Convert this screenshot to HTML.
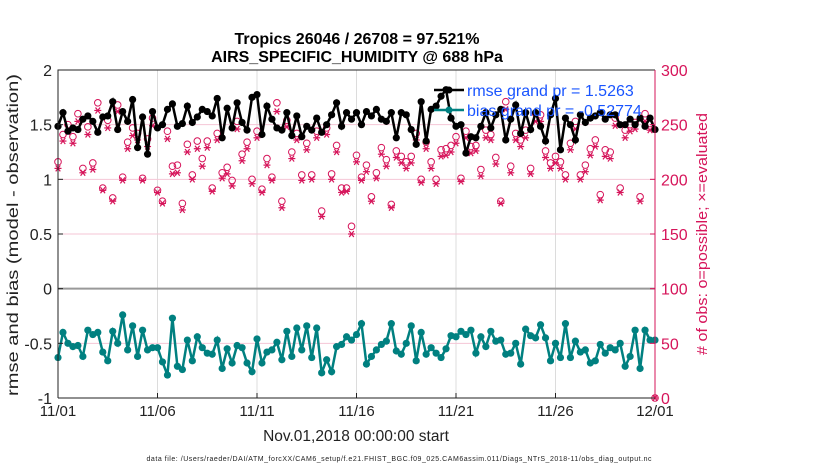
<!DOCTYPE html>
<html><head><meta charset="utf-8"><style>
body{margin:0;background:#fff;}
svg{display:block;font-family:"Liberation Sans",sans-serif;}
</style></head><body>
<svg id="chart" width="830" height="470">
<text x="357" y="44" text-anchor="middle" font-size="16" font-weight="bold">Tropics 26046 / 26708 = 97.521%</text>
<text x="357" y="62" text-anchor="middle" font-size="16" font-weight="bold">AIRS_SPECIFIC_HUMIDITY @ 688 hPa</text>
<g id="grid"></g>
<g id="series"></g>
<g id="axes"></g>
<text transform="translate(18,235) rotate(-90)" text-anchor="middle" font-size="16" fill="#222" textLength="322" lengthAdjust="spacingAndGlyphs">rmse and bias (model - observation)</text>
<text transform="translate(707,234) rotate(-90)" text-anchor="middle" font-size="15" fill="#d6145a" textLength="242" lengthAdjust="spacingAndGlyphs"># of obs: o=possible; &#215;=evaluated</text>
<text x="356" y="441" text-anchor="middle" font-size="15.5" fill="#222">Nov.01,2018 00:00:00 start</text>
<text x="399" y="461" text-anchor="middle" font-size="7" fill="#222" textLength="505">data file: /Users/raeder/DAI/ATM_forcXX/CAM6_setup/f.e21.FHIST_BGC.f09_025.CAM6assim.011/Diags_NTrS_2018-11/obs_diag_output.nc</text>
<g>
<line x1="434" y1="90" x2="464" y2="90" stroke="#000" stroke-width="2.5"/>
<circle cx="449" cy="90" r="3.5" fill="#000"/>
<text x="467" y="96" font-size="16" fill="#1a55ff">rmse grand pr = 1.5263</text>
<line x1="434" y1="110" x2="464" y2="110" stroke="#008080" stroke-width="2.5"/>
<circle cx="449" cy="110" r="3.5" fill="#008080"/>
<text x="467" y="116" font-size="16" fill="#1a55ff">bias grand pr = -0.52774</text>
</g>
</svg>
<script>
const xTickLabels=["11/01","11/06","11/11","11/16","11/21","11/26","12/01"];
const yTickLabels=[2,1.5,1,0.5,0,-0.5,-1];
const rightTickLabels=[300,250,200,150,100,50,0];
const rmse=[1.485,1.61,1.44,1.47,1.455,1.55,1.58,1.53,1.43,1.57,1.58,1.71,1.455,1.62,1.53,1.73,1.29,1.57,1.23,1.62,1.47,1.50,1.64,1.69,1.485,1.51,1.67,1.52,1.57,1.64,1.62,1.58,1.74,1.38,1.65,1.47,1.70,1.52,1.45,1.75,1.775,1.41,1.67,1.55,1.47,1.45,1.61,1.40,1.58,1.39,1.485,1.45,1.56,1.43,1.50,1.59,1.70,1.485,1.61,1.55,1.61,1.50,
1.62,1.58,1.64,1.55,1.53,1.61,1.38,1.61,1.59,1.455,1.32,1.71,1.35,1.64,1.67,1.76,1.82,1.56,1.485,1.50,1.24,1.39,1.38,1.485,1.61,1.47,1.59,1.64,1.36,1.55,1.68,1.42,1.61,1.455,1.61,1.485,1.35,1.59,1.74,1.27,1.56,1.50,1.36,1.59,1.52,1.56,1.58,1.61,1.55,1.59,1.59,1.50,1.50,1.55,1.50,1.56,1.485,1.56,1.455];
const bias=[-0.63,-0.40,-0.50,-0.53,-0.52,-0.62,-0.38,-0.42,-0.40,-0.58,-0.66,-0.39,-0.50,-0.24,-0.56,-0.34,-0.62,-0.38,-0.56,-0.54,-0.54,-0.67,-0.79,-0.27,-0.71,-0.74,-0.47,-0.66,-0.44,-0.54,-0.59,-0.60,-0.47,-0.73,-0.55,-0.68,-0.52,-0.54,-0.68,-0.76,-0.46,-0.68,-0.58,-0.56,-0.49,-0.65,-0.39,-0.62,-0.36,-0.56,-0.34,-0.63,-0.36,-0.77,-0.65,-0.76,-0.53,-0.51,-0.44,-0.47,-0.42,-0.32,-0.69,-0.62,-0.56,-0.51,-0.48,-0.32,-0.57,-0.60,-0.50,-0.34,-0.66,-0.40,-0.60,-0.54,-0.59,-0.63,-0.55,-0.43,-0.44,-0.39,-0.42,-0.38,-0.59,-0.44,-0.53,-0.39,-0.48,-0.47,-0.60,-0.59,-0.50,-0.69,-0.37,-0.43,-0.45,-0.33,-0.45,-0.66,-0.50,-0.63,-0.32,-0.63,-0.48,-0.58,-0.56,-0.68,-0.66,-0.51,-0.59,-0.54,-0.56,-0.50,-0.71,-0.62,-0.38,-0.73,-0.38,-0.47,-0.47];
const possible=[216,241,250,239,260,210,248,215,270,192,254,183,268,202,234,247,242,201,237,256,190,180,244,212,213,178,232,204,235,219,235,192,242,206,211,199,253,223,234,200,244,191,219,202,270,180,254,225,242,204,233,204,244,171,247,205,231,192,192,157,222,
202,213,184,206,229,218,177,226,221,216,221,242,200,234,216,200,227,228,231,239,201,244,230,231,209,245,241,220,180,271,212,242,236,245,210,260,259,226,215,221,216,204,233,253,204,213,228,236,186,227,225,256,192,245,250,252,184,260,251,0];
const evaluated=[210,235,243,233,253,206,241,209,263,190,247,180,262,199,228,240,236,199,230,249,188,178,237,205,206,172,225,200,228,212,229,189,236,201,205,194,246,217,228,196,238,188,213,199,262,174,248,219,236,199,227,200,238,166,241,200,225,188,189,150,216,
199,207,180,201,223,212,174,220,215,210,215,236,197,228,210,196,221,222,225,233,198,238,224,226,203,238,236,214,178,264,206,236,230,238,205,253,253,220,210,215,210,200,227,246,200,207,222,230,181,221,219,249,188,238,244,246,180,253,245,0];
const NS="http://www.w3.org/2000/svg";
const X0=58,X1=655,Y0=70,Y1=398,DAYS=30;
function xs(i){return X0+(i/4)/DAYS*(X1-X0);}
function xd(d){return X0+d/DAYS*(X1-X0);}
function yl(v){return Y0+(2-v)/3*(Y1-Y0);}
function yr(v){return Y1-v/300*(Y1-Y0);}
function mk(tag,attrs,parent){const e=document.createElementNS(NS,tag);for(const k in attrs)e.setAttribute(k,attrs[k]);parent.appendChild(e);return e;}
const grid=document.getElementById('grid'),ser=document.getElementById('series'),ax=document.getElementById('axes');
xTickLabels.forEach((t,i)=>{const x=xd(i*5);
 if(i>0&&i<6){const g=mk('line',{x1:x,x2:x,y1:Y0,y2:Y1,stroke:'#dcdcdc','stroke-width':1},grid);
 
 }
 const tx=mk('text',{x:x,y:416,'text-anchor':'middle','font-size':15,fill:'#222'},ax);tx.textContent=t;
 
 
 mk('line',{x1:x,x2:x,y1:Y1,y2:Y1-5,stroke:'#222'},ax);
});
rightTickLabels.forEach(v=>{const y=yr(v);
 if(v>0&&v<300&&v!==100){const g=mk('line',{x1:X0,x2:X1,y1:y,y2:y,stroke:'#f5c6d6','stroke-width':1},grid);
 
 }
 const tx=mk('text',{x:661,y:y+6,'font-size':16,fill:'#d6145a'},ax);tx.textContent=v;
 
 
 mk('line',{x1:X1,x2:X1-5,y1:y,y2:y,stroke:'#d6145a'},ax);
});
yTickLabels.forEach(v=>{const y=yl(v);
 const tx=mk('text',{x:52,y:y+6,'text-anchor':'end','font-size':16,fill:'#222'},ax);tx.textContent=v;
 
 
 mk('line',{x1:X0,x2:X0+5,y1:y,y2:y,stroke:'#222'},ax);
});
const zl=mk('line',{x1:X0,x2:X1,y1:yl(0),y2:yl(0),stroke:'#999','stroke-width':2},grid);


possible.forEach((v,i)=>{const c=mk('circle',{cx:xs(i),cy:yr(v),r:3.3,fill:'none',stroke:'#d6145a','stroke-width':1},ser);
 
 });
evaluated.forEach((v,i)=>{const x=xs(i),y=yr(v);const g=mk('g',{stroke:'#d6145a','stroke-width':1.2},ser);
 
 
 mk('line',{x1:x-3.5,x2:x+3.5,y1:y,y2:y},g);mk('line',{x1:x-2.3,x2:x+2.3,y1:y-3,y2:y+3},g);mk('line',{x1:x-2.3,x2:x+2.3,y1:y+3,y2:y-3},g);});
function line(arr,color,name){const p=mk('polyline',{points:arr.map((v,i)=>xs(i)+','+yl(v)).join(' '),fill:'none',stroke:color,'stroke-width':2.5},ser);
 
 
 arr.forEach((v,i)=>{const c=mk('circle',{cx:xs(i),cy:yl(v),r:3.6,fill:color},ser);
 
 });}
line(rmse,'#000','rmse');
line(bias,'#008080','bias');
const fr1=mk('polyline',{points:`${X0},${Y1} ${X0},${Y0} ${X1},${Y0}`,fill:'none',stroke:'#222','stroke-width':1},ax);


const fr2=mk('line',{x1:X0,x2:X1,y1:Y1,y2:Y1,stroke:'#222','stroke-width':1},ax);


const fr3=mk('line',{x1:X1,x2:X1,y1:Y0,y2:Y1,stroke:'#d6145a','stroke-width':1},ax);


</script>
</body></html>
